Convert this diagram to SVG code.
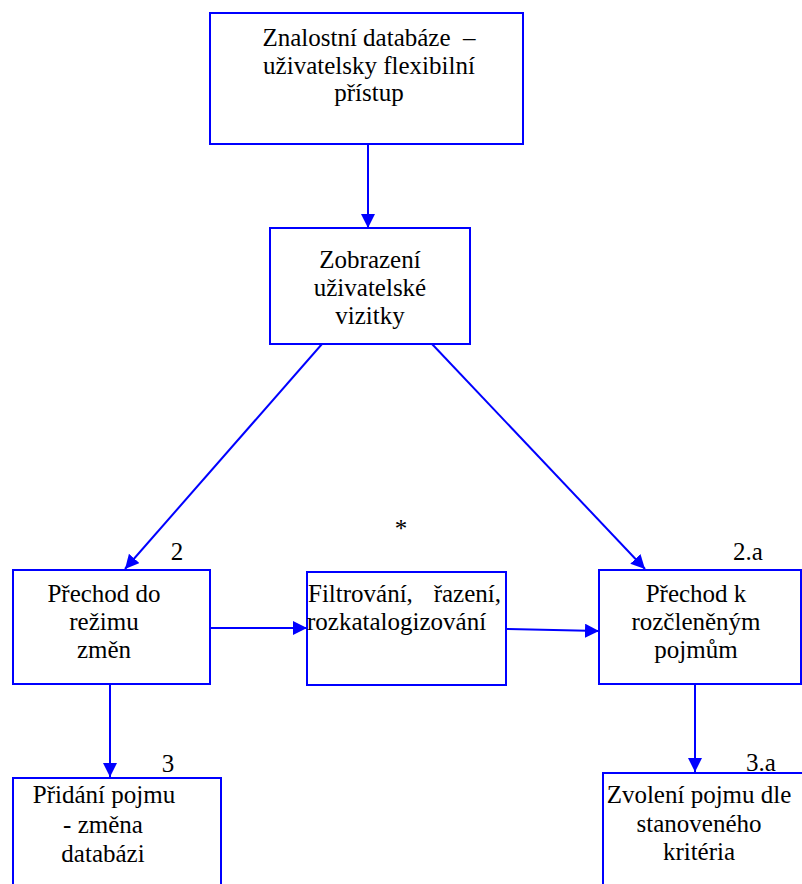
<svg xmlns="http://www.w3.org/2000/svg" width="802" height="884" viewBox="0 0 802 884">
<defs>
<style>
.box{fill:#fff;stroke:#0000ff;stroke-width:2}
.t{font-family:"Liberation Serif","Times New Roman",serif;font-size:25px;fill:#000}
.c{text-anchor:middle}
.edge{stroke:#0000ff;stroke-width:2;fill:none;marker-end:url(#ah)}
</style>
<marker id="ah" markerUnits="userSpaceOnUse" markerWidth="15" markerHeight="15" refX="14" refY="7" orient="auto">
<path d="M0,0 L14,7 L0,14 Z" fill="#0000ff"/>
</marker>
</defs>
<rect width="802" height="884" fill="#fff"/>
<g id="connectors">
<line class="edge" x1="368" y1="144" x2="368" y2="228"/>
<line class="edge" x1="322" y1="344" x2="125" y2="569"/>
<line class="edge" x1="432" y1="344" x2="645" y2="569"/>
<line class="edge" x1="210" y1="628" x2="307" y2="628"/>
<line class="edge" x1="506" y1="629" x2="599" y2="631"/>
<line class="edge" x1="110" y1="684" x2="110" y2="777"/>
<line class="edge" x1="695" y1="684" x2="695" y2="772"/>
</g>
<g id="n1">
<rect class="box" x="210" y="13" width="313" height="131"/>
<text class="t c" x="369" y="46" xml:space="preserve">Znalostní databáze  –</text>
<text class="t c" x="369" y="74">uživatelsky flexibilní</text>
<text class="t c" x="369" y="101">přístup</text>
</g>
<g id="n2">
<rect class="box" x="270" y="228" width="200" height="116"/>
<text class="t c" x="370" y="268">Zobrazení</text>
<text class="t c" x="370" y="296">uživatelské</text>
<text class="t c" x="370" y="324">vizitky</text>
</g>
<g id="n3">
<rect class="box" x="13" y="570" width="197" height="114"/>
<text class="t c" x="104" y="602">Přechod do</text>
<text class="t c" x="104" y="630">režimu</text>
<text class="t c" x="104" y="658">změn</text>
<text class="t c" x="177" y="560">2</text>
</g>
<g id="n4">
<rect class="box" x="307" y="572" width="199" height="113"/>
<text class="t" x="308" y="602">Filtrování,</text>
<text class="t" x="501" y="602" text-anchor="end">řazení,</text>
<text class="t" x="307" y="630">rozkatalogizování</text>
<text class="t c" x="401" y="537">*</text>
</g>
<g id="n5">
<rect class="box" x="599" y="570" width="202" height="114"/>
<text class="t c" x="696" y="602">Přechod k</text>
<text class="t c" x="696" y="630">rozčleněným</text>
<text class="t c" x="696" y="658">pojmům</text>
<text class="t c" x="748" y="560">2.a</text>
</g>
<g id="n6">
<rect class="box" x="13" y="778" width="208" height="130"/>
<text class="t c" x="104" y="803">Přidání pojmu</text>
<text class="t c" x="103" y="833">- změna</text>
<text class="t c" x="103" y="862">databázi</text>
<text class="t c" x="168" y="772">3</text>
</g>
<g id="n7">
<rect class="box" x="603" y="773" width="230" height="130"/>
<text class="t c" x="699" y="803">Zvolení pojmu dle</text>
<text class="t c" x="699" y="832">stanoveného</text>
<text class="t c" x="699" y="860">kritéria</text>
<text class="t c" x="761" y="771">3.a</text>
</g>
</svg>
